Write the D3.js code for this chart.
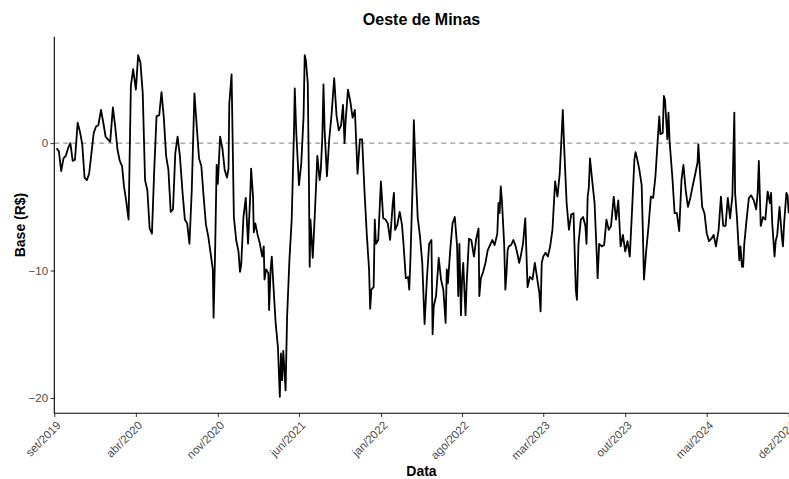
<!DOCTYPE html>
<html>
<head>
<meta charset="utf-8">
<script src="https://cdn.jsdelivr.net/npm/d3@7"></script>
<style>
  body { margin: 0; background: #fff; }
  text { font-family: "Liberation Sans", Arial, Helvetica, sans-serif; }
</style>
</head>
<body>
<svg id="chart" width="789" height="479"></svg>
<script>
// Basis (R$) series for Oeste de Minas
const dates = [
  "2019-09-07","2019-09-13","2019-09-19","2019-09-25","2019-10-01","2019-10-07","2019-10-13","2019-10-19","2019-10-25",
  "2019-11-01","2019-11-07","2019-11-13","2019-11-19","2019-11-25","2019-12-01","2019-12-07","2019-12-13","2019-12-19","2019-12-25",
  "2020-01-01","2020-01-07","2020-01-13","2020-01-19","2020-01-25","2020-02-01","2020-02-07","2020-02-13","2020-02-19","2020-02-25",
  "2020-03-01","2020-03-07","2020-03-13","2020-03-19","2020-03-25","2020-04-01","2020-04-07","2020-04-13","2020-04-19","2020-04-25",
  "2020-05-01","2020-05-07","2020-05-13","2020-05-19","2020-05-25","2020-06-01","2020-06-07","2020-06-13","2020-06-19","2020-06-25",
  "2020-07-01","2020-07-07","2020-07-13","2020-07-19","2020-07-25","2020-08-01","2020-08-07","2020-08-13","2020-08-19","2020-08-25",
  "2020-09-01","2020-09-07","2020-09-13","2020-09-19","2020-09-25","2020-10-01","2020-10-07","2020-10-13","2020-10-19","2020-10-21",
  "2020-10-25","2020-10-29","2020-11-01","2020-11-07","2020-11-13","2020-11-19","2020-11-25","2020-11-29","2020-12-01","2020-12-07",
  "2020-12-13","2020-12-19","2020-12-25","2020-12-29",
  "2021-01-01","2021-01-07","2021-01-13","2021-01-19","2021-01-25","2021-01-27","2021-02-01","2021-02-03","2021-02-07","2021-02-13",
  "2021-02-19","2021-02-25","2021-03-01","2021-03-03","2021-03-07","2021-03-13","2021-03-15","2021-03-19","2021-03-22","2021-03-25",
  "2021-04-01","2021-04-07","2021-04-12","2021-04-15","2021-04-18","2021-04-21","2021-04-24","2021-04-27","2021-05-01","2021-05-07",
  "2021-05-13","2021-05-19","2021-05-21","2021-05-25","2021-06-01","2021-06-07","2021-06-13","2021-06-16","2021-06-19","2021-06-24",
  "2021-06-27","2021-06-29","2021-07-01","2021-07-07","2021-07-13","2021-07-19","2021-07-25","2021-07-28","2021-08-01","2021-08-04",
  "2021-08-07","2021-08-13","2021-08-19","2021-08-25","2021-09-01","2021-09-07","2021-09-13","2021-09-19","2021-09-24","2021-09-28",
  "2021-10-01","2021-10-07","2021-10-13","2021-10-19","2021-10-25","2021-11-01","2021-11-07","2021-11-13","2021-11-19","2021-11-25",
  "2021-12-01","2021-12-04","2021-12-07","2021-12-13","2021-12-16","2021-12-19","2021-12-25",
  "2022-01-01","2022-01-07","2022-01-13","2022-01-19","2022-01-25","2022-02-01","2022-02-04","2022-02-07","2022-02-13","2022-02-19",
  "2022-02-25","2022-03-01","2022-03-07","2022-03-13","2022-03-16","2022-03-19","2022-03-25","2022-03-28","2022-04-01","2022-04-07",
  "2022-04-13","2022-04-19","2022-04-25","2022-05-01","2022-05-07","2022-05-13","2022-05-16","2022-05-19","2022-05-25","2022-06-01",
  "2022-06-07","2022-06-13","2022-06-19","2022-06-22","2022-06-25","2022-07-01","2022-07-07","2022-07-13","2022-07-19","2022-07-22",
  "2022-07-25","2022-07-29","2022-08-01","2022-08-04","2022-08-07","2022-08-10","2022-08-13","2022-08-19","2022-08-25","2022-09-01",
  "2022-09-07","2022-09-13","2022-09-15","2022-09-19","2022-09-25","2022-10-01","2022-10-07","2022-10-13","2022-10-19","2022-10-25",
  "2022-11-01","2022-11-04","2022-11-07","2022-11-10","2022-11-13","2022-11-19","2022-11-22","2022-11-25","2022-11-28","2022-12-01",
  "2022-12-07","2022-12-13","2022-12-19","2022-12-25","2022-12-28",
  "2023-01-01","2023-01-07","2023-01-13","2023-01-19","2023-01-25","2023-02-01","2023-02-07","2023-02-13","2023-02-19","2023-02-22",
  "2023-02-25","2023-03-01","2023-03-07","2023-03-13","2023-03-19","2023-03-25","2023-04-01","2023-04-07","2023-04-13","2023-04-19",
  "2023-04-21","2023-04-25","2023-05-01","2023-05-07","2023-05-13","2023-05-19","2023-05-25","2023-05-28","2023-06-01","2023-06-07",
  "2023-06-13","2023-06-19","2023-06-22","2023-06-25","2023-06-28","2023-07-01","2023-07-07","2023-07-13","2023-07-19","2023-07-21",
  "2023-07-25","2023-08-01","2023-08-07","2023-08-13","2023-08-19","2023-08-25","2023-09-01","2023-09-07","2023-09-13","2023-09-19",
  "2023-09-25","2023-10-01","2023-10-07","2023-10-13","2023-10-19","2023-10-25","2023-10-28","2023-11-01","2023-11-07","2023-11-13",
  "2023-11-16","2023-11-19","2023-11-25","2023-12-01","2023-12-07","2023-12-13","2023-12-19","2023-12-25","2023-12-29",
  "2024-01-01","2024-01-07","2024-01-10","2024-01-13","2024-01-19","2024-01-22","2024-01-25","2024-02-01","2024-02-07","2024-02-13",
  "2024-02-19","2024-02-25","2024-03-01","2024-03-07","2024-03-13","2024-03-19","2024-03-25","2024-04-01","2024-04-07","2024-04-09",
  "2024-04-13","2024-04-19","2024-04-25","2024-05-01","2024-05-07","2024-05-13","2024-05-19","2024-05-25","2024-06-01","2024-06-07",
  "2024-06-13","2024-06-19","2024-06-25","2024-07-01","2024-07-07","2024-07-12","2024-07-14","2024-07-19","2024-07-25","2024-07-28",
  "2024-08-01","2024-08-04","2024-08-07","2024-08-13","2024-08-19","2024-08-25","2024-09-01","2024-09-07","2024-09-11","2024-09-14",
  "2024-09-19","2024-09-25","2024-10-01","2024-10-07","2024-10-13","2024-10-16","2024-10-19","2024-10-25","2024-10-28","2024-11-01",
  "2024-11-07","2024-11-13","2024-11-16","2024-11-19","2024-11-25","2024-11-28","2024-12-01"
];

const base = [
  -0.4,-0.65,-2.2,-1.2,-1.0,-0.4,0.0,-1.4,-1.3,
  1.6,0.9,-0.1,-2.7,-2.9,-2.4,-0.8,0.8,1.3,1.4,
  2.6,1.6,0.5,0.3,0.1,2.8,1.3,-0.5,-1.4,-1.8,
  -3.4,-4.6,-6.0,4.5,5.8,4.2,6.9,6.3,3.9,-2.9,
  -3.7,-6.7,-7.1,-2.1,2.1,2.2,4.0,2.0,-1.0,-2.1,
  -5.4,-5.2,-0.8,0.5,-1.0,-3.9,-6.0,-6.3,-7.9,-3.7,
  3.9,1.3,-1.2,-1.8,-4.2,-6.4,-7.3,-8.6,-9.9,-13.7,
  -8.5,-1.7,-3.2,0.5,-0.4,-2.1,-2.7,-2.0,3.1,5.4,
  -5.8,-7.6,-8.5,-10.1,
  -9.6,-5.8,-4.3,-7.9,-3.9,-2.0,-4.2,-7.0,-6.3,-7.2,
  -7.9,-8.9,-8.1,-10.7,-9.9,-10.2,-13.1,-9.9,-8.9,-10.5,
  -14.1,-16.0,-19.9,-16.5,-18.6,-16.3,-17.8,-19.4,-13.6,-9.2,
  -6.0,1.0,4.3,0.8,-3.3,-1.6,2.1,6.9,6.5,4.7,
  -3.0,-9.7,-6.0,-9.0,-5.2,-1.0,-2.9,-2.1,0.5,4.6,
  1.0,-2.6,0.3,2.2,5.1,2.2,1.0,1.4,3.0,0.0,
  1.8,4.2,3.3,2.0,2.6,-2.4,0.3,0.3,-3.7,-7.1,
  -9.9,-13.0,-11.5,-11.3,-6.0,-7.9,-7.6,
  -3.0,-5.9,-6.0,-6.3,-7.6,-4.7,-3.9,-6.8,-6.4,-5.4,
  -6.4,-7.9,-10.6,-10.5,-11.5,-9.2,-3.0,1.8,-1.6,-5.8,
  -7.3,-9.4,-14.2,-10.7,-7.9,-7.6,-15.0,-12.8,-12.0,-9.0,
  -10.7,-11.5,-14.1,-9.9,-11.0,-8.4,-6.3,-5.8,-8.1,-12.0,
  -7.9,-13.5,-10.6,-9.4,-11.5,-13.5,-11.0,-7.5,-7.6,-8.9,
  -7.5,-6.7,-12.0,-10.6,-10.1,-9.4,-8.4,-8.0,-7.6,-8.0,
  -7.1,-4.7,-5.5,-3.4,-4.5,-8.0,-11.5,-10.2,-8.4,-8.1,
  -8.0,-7.6,-8.1,-8.9,-9.4,
  -8.9,-7.9,-5.9,-11.3,-10.5,-10.7,-9.4,-10.6,-11.8,-13.2,
  -9.4,-8.9,-8.6,-8.9,-8.1,-6.8,-3.0,-4.2,-2.4,1.3,
  2.6,-0.6,-4.7,-6.8,-5.6,-5.5,-11.5,-12.3,-7.9,-6.0,
  -5.8,-6.5,-7.9,-4.2,-3.5,-1.2,-3.0,-4.7,-9.0,-10.6,
  -7.9,-8.1,-8.0,-6.0,-6.8,-6.5,-4.2,-6.0,-4.5,-8.1,
  -7.2,-8.5,-7.7,-8.9,-5.2,-1.3,-0.7,-1.2,-2.1,-3.3,
  -6.8,-10.7,-8.4,-6.5,-4.2,-4.3,-2.6,0.3,2.1,
  0.7,0.8,3.7,3.4,0.3,2.4,0.1,-2.6,-5.5,-5.5,
  -6.9,-2.9,-1.7,-3.7,-5.0,-4.3,-3.4,-2.4,-1.5,-0.1,
  -2.1,-5.0,-5.5,-7.1,-7.7,-7.5,-7.2,-8.1,-6.8,-4.2,
  -6.5,-6.5,-4.3,-5.9,-4.1,2.4,-3.9,-5.9,-9.2,-8.1,
  -9.7,-9.7,-7.9,-6.0,-4.3,-4.1,-4.5,-5.2,-3.9,-1.4,
  -6.5,-5.8,-6.0,-3.8,-4.7,-3.9,-6.3,-8.9,-7.7,-7.2,
  -5.0,-7.3,-8.1,-6.3,-3.9,-4.1,-5.5
];

const xTickDates = ["2019-09-01","2020-04-01","2020-11-01","2021-06-01","2022-01-01",
                    "2022-08-01","2023-03-01","2023-10-01","2024-05-01","2024-12-01"];
const xTickLabels = ["set/2019","abr/2020","nov/2020","jun/2021","jan/2022",
                     "ago/2022","mar/2023","out/2023","mai/2024","dez/2024"];
const yTickValues = [0, -10, -20];
const referenceLine = 0;

const titleText = "Oeste de Minas";
const xTitle = "Data";
const yTitle = "Base (R$)";

const parse = d3.timeParse("%Y-%m-%d");
const series = dates.map((d, i) => ({ date: parse(d), value: base[i] }));

const svg = d3.select("#chart");
const panel = { left: 54.3, right: 788.7, top: 36.7, bottom: 413.3 };

const x = d3.scaleTime()
  .domain([parse("2019-09-01"), parse("2024-12-01")])
  .range([panel.left, panel.right]);

const y = d3.scaleLinear()
  .domain([-21.2, 8.35])
  .range([panel.bottom, panel.top]);

// zero reference line
svg.append("line")
  .attr("x1", panel.left).attr("x2", panel.right)
  .attr("y1", y(referenceLine)).attr("y2", y(referenceLine))
  .attr("stroke", "#7f7f7f")
  .attr("stroke-width", 1)
  .attr("stroke-dasharray", "5,4");

// basis line
const line = d3.line()
  .x(d => x(d.date))
  .y(d => y(d.value));

svg.append("path")
  .datum(series)
  .attr("fill", "none")
  .attr("stroke", "#000")
  .attr("stroke-width", 1.8)
  .attr("stroke-linejoin", "round")
  .attr("d", line);

// y axis
const yAxis = d3.axisLeft(y)
  .tickValues(yTickValues)
  .tickSize(3.7)
  .tickPadding(2.5)
  .tickFormat(d3.format("d"));

const gy = svg.append("g")
  .attr("transform", `translate(${panel.left},0)`)
  .call(yAxis);
gy.select(".domain").remove();
gy.selectAll(".tick line").attr("stroke", "#333").attr("stroke-width", 1);
gy.selectAll(".tick text")
  .attr("fill", "#4d4d4d")
  .style("font-size", "11.5px")
  .style("font-family", "'Liberation Sans', Arial, sans-serif");

svg.append("line")
  .attr("x1", panel.left).attr("x2", panel.left)
  .attr("y1", panel.top).attr("y2", panel.bottom)
  .attr("stroke", "#000").attr("stroke-width", 1.1);

// x axis
const xAxis = d3.axisBottom(x)
  .tickValues(xTickDates.map(parse))
  .tickSize(3.7)
  .tickFormat((d, i) => xTickLabels[i]);

const gx = svg.append("g")
  .attr("transform", `translate(0,${panel.bottom})`)
  .call(xAxis);
gx.select(".domain").remove();
gx.selectAll(".tick line").attr("stroke", "#333").attr("stroke-width", 1);
gx.selectAll(".tick text")
  .attr("fill", "#4d4d4d")
  .style("font-size", "11.5px")
  .style("font-family", "'Liberation Sans', Arial, sans-serif")
  .attr("text-anchor", "end")
  .attr("y", 0)
  .attr("dy", "0.71em")
  .attr("transform", "translate(1,7) rotate(-45)");

svg.append("line")
  .attr("x1", panel.left).attr("x2", panel.right)
  .attr("y1", panel.bottom).attr("y2", panel.bottom)
  .attr("stroke", "#000").attr("stroke-width", 1.1);

// titles
svg.append("text")
  .attr("x", (panel.left + panel.right) / 2)
  .attr("y", 25)
  .attr("text-anchor", "middle")
  .style("font-size", "16px")
  .style("font-weight", "bold")
  .attr("fill", "#000")
  .text(titleText);

svg.append("text")
  .attr("x", (panel.left + panel.right) / 2)
  .attr("y", 476)
  .attr("text-anchor", "middle")
  .style("font-size", "14px")
  .style("font-weight", "bold")
  .attr("fill", "#000")
  .text(xTitle);

svg.append("text")
  .attr("transform", `translate(25,${(panel.top + panel.bottom) / 2}) rotate(-90)`)
  .attr("text-anchor", "middle")
  .style("font-size", "14px")
  .style("font-weight", "bold")
  .attr("fill", "#000")
  .text(yTitle);
</script>
</body>
</html>
